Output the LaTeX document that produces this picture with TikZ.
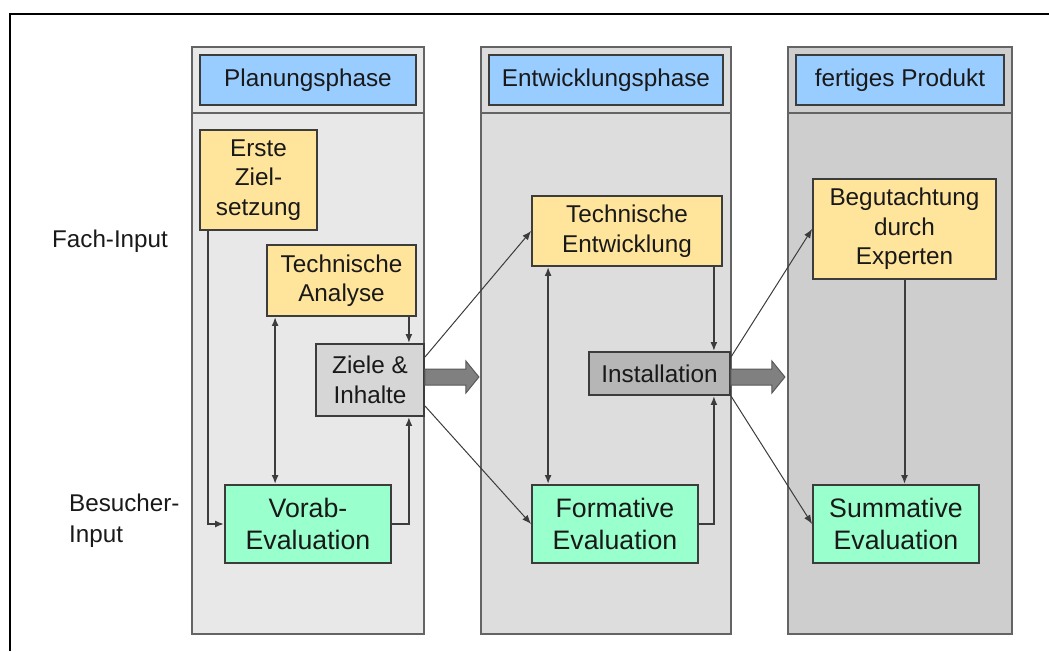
\documentclass[tikz,border=0pt]{standalone}
\usepackage{fontspec}
\setmainfont{Liberation Sans}
\usetikzlibrary{calc,arrows.meta}

\definecolor{phaseA}{RGB}{232,232,232}
\definecolor{phaseB}{RGB}{221,221,221}
\definecolor{phaseC}{RGB}{206,206,206}
\definecolor{phaseline}{RGB}{100,100,100}
\definecolor{headblue}{RGB}{153,204,255}
\definecolor{boxyellow}{RGB}{255,228,155}
\definecolor{boxgreen}{RGB}{153,255,204}
\definecolor{boxgray}{RGB}{214,214,214}
\definecolor{boxdark}{RGB}{182,182,182}
\definecolor{boxline}{RGB}{60,60,60}
\definecolor{txt}{RGB}{25,25,25}

\tikzset{
  box/.style={draw=boxline, line width=1.8pt, inner sep=0pt, align=center, text=txt,
    font=\fontsize{24.3}{29.5}\selectfont},
  headbox/.style={box, fill=headblue, minimum height=50pt},
  fachbox/.style={box, fill=boxyellow},
  evalbox/.style={box, fill=boxgreen, minimum width=166pt, minimum height=78pt,
    font=\fontsize{26.7}{32}\selectfont},
  sidelabel/.style={inner sep=0pt, text=txt, align=left, font=\fontsize{24.2}{31}\selectfont},
  conn/.style={draw=boxline, line width=2pt, ->},
  slant/.style={draw=boxline, line width=1pt, ->},
  bigarrow/.style={fill=black!50, draw=black!65, line width=1pt}
}

\begin{document}
\begin{tikzpicture}[x=1pt, y=-1pt, >={Latex[length=9pt,width=7pt]}]
  \useasboundingbox (0,0) rectangle (1049,651);
  \draw[line width=2.5pt] (10,651) -- (10,14) -- (1049,14);

  % phases
  \foreach \i/\xa/\xb/\col/\phase in {1/192/424/phaseA/Planungsphase,
      2/481/731/phaseB/Entwicklungsphase, 3/788/1012/phaseC/fertiges Produkt}{
    \filldraw[fill=\col, draw=phaseline, line width=1.8pt] (\xa,47) rectangle (\xb,634);
    \draw[phaseline, line width=1.8pt] (\xa,113) -- (\xb,113);
    \node[headbox, minimum width={\xb-\xa-16}] (head\i) at ({(\xa+\xb)/2},80) {\phase};
  }

  \node[sidelabel] (fach) at (110,241) {Fach-Input};
  \node[sidelabel, anchor=west] (besucher) at (69,521) {Besucher-\\Input};

  % Planungsphase
  \node[fachbox, minimum width=117pt, minimum height=100pt] (erste) at (258.5,180) {Erste\\Ziel-\\setzung};
  \node[fachbox, minimum width=149pt, minimum height=71pt] (analyse) at (341.5,280.5) {Technische\\Analyse};
  \node[box, fill=boxgray, minimum width=108pt, minimum height=72pt] (ziele) at (370,380) {Ziele \&\\Inhalte};
  \node[evalbox] (vorab) at (308,524) {Vorab-\\Evaluation};

  % Entwicklungsphase
  \node[fachbox, minimum width=190pt, minimum height=70pt] (entw) at (627,231) {Technische\\Entwicklung};
  \node[box, fill=boxdark, minimum width=141pt, minimum height=43pt] (install) at (659.5,373.5) {Installation};
  \node[evalbox] (formative) at (615,524) {Formative\\Evaluation};

  % fertiges Produkt
  \node[fachbox, minimum width=183pt, minimum height=100pt] (begut) at (904.5,229) {Begutachtung\\durch\\Experten};
  \node[evalbox] (summative) at (896,524) {Summative\\Evaluation};

  \coordinate (erste-out) at ($(erste.south west)+(9,0)$);
  \coordinate (analyse-in) at ($(analyse.south west)+(9,0)$);
  \coordinate (analyse-out) at ($(analyse.south east)+(-8,0)$);
  \coordinate (entw-in) at ($(entw.south west)+(17,0)$);
  \coordinate (entw-out) at ($(entw.south east)+(-9,0)$);

  \draw[conn] (erste-out) |- (vorab.west);
  \draw[conn,<->] (analyse-in) -- (analyse-in |- vorab.north);
  \draw[conn] (analyse-out) -- (analyse-out |- ziele.north);
  \draw[conn] (vorab.east) -| (analyse-out |- ziele.south);

  \draw[conn,<->] (entw-in) -- (entw-in |- formative.north);
  \draw[conn] (entw-out) -- (entw-out |- install.north);
  \draw[conn] (formative.east) -| (entw-out |- install.south);

  \draw[conn] (begut.south) -- (begut.south |- summative.north);

  \draw[slant] ($(ziele.north east)+(0,14)$) -- (entw.west);
  \draw[slant] ($(ziele.south east)+(0,-11)$) -- (formative.west);
  \draw[slant] ($(install.north east)+(0,6)$) -- (begut.west);
  \draw[slant] (install.south east) -- (summative.west);

  % big arrows
  \foreach \n in {ziele, install}{
    \filldraw[bigarrow] ($(\n.east |- 0,377)+(0,-8)$) -- ++(41,0) -- ++(0,-8) -- ++(13,16)
      -- ++(-13,16) -- ++(0,-8) -- ++(-41,0) -- cycle;
  }
\end{tikzpicture}
\end{document}
